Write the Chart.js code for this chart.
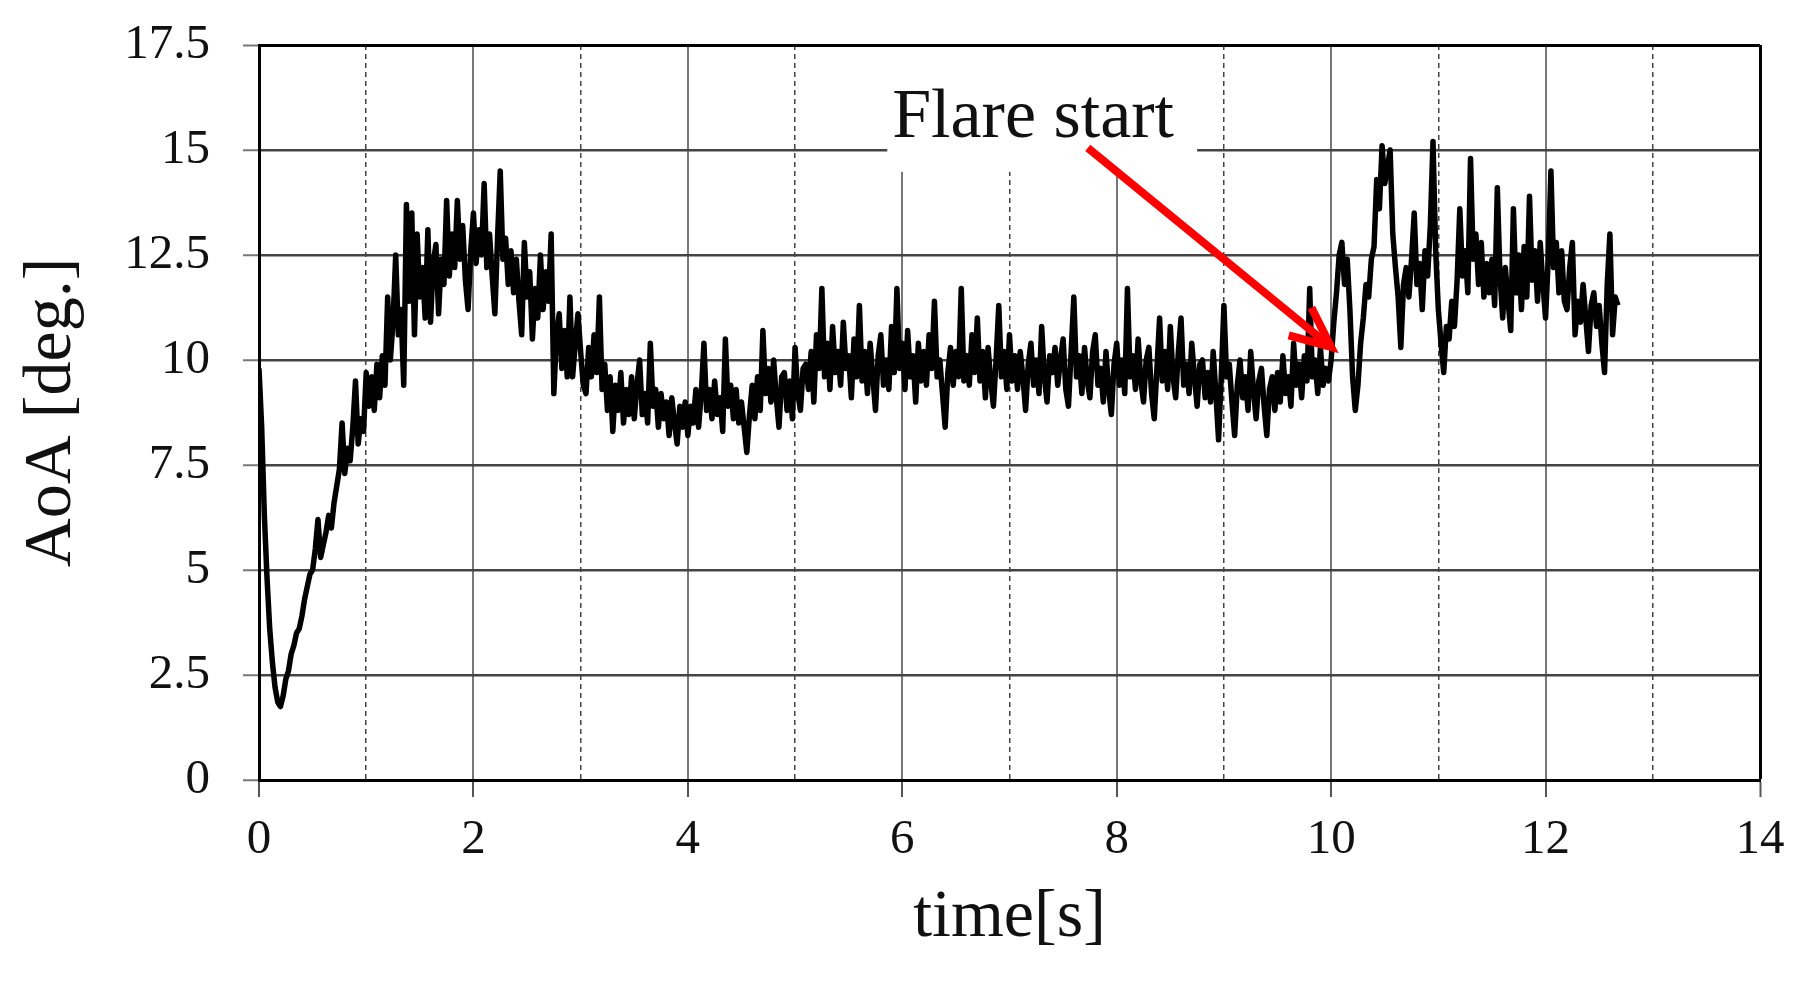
<!DOCTYPE html>
<html>
<head>
<meta charset="utf-8">
<script src="https://cdn.jsdelivr.net/npm/chart.js@4.4.1/dist/chart.umd.min.js"></script>
<style>
  html, body { margin: 0; padding: 0; background: #fff; }
  #chart { display: block; }
</style>
</head>
<body>
<canvas id="chart" width="1800" height="981"></canvas>
<script>
// sample times [s], one row per second
const timeS = [
  0, 0.025, 0.05, 0.075, 0.1, 0.125, 0.15, 0.175, 0.2, 0.225, 0.25, 0.275, 0.3, 0.325, 0.35, 0.375, 0.4, 0.425, 0.45, 0.475,
  0.5, 0.525, 0.55, 0.575, 0.6, 0.625, 0.65, 0.675, 0.7, 0.725, 0.75, 0.775, 0.8, 0.825, 0.85, 0.875, 0.9, 0.925, 0.95, 0.975,
  1, 1.025, 1.05, 1.075, 1.1, 1.125, 1.15, 1.175, 1.2, 1.225, 1.25, 1.275, 1.3, 1.325, 1.35, 1.375, 1.4, 1.425, 1.45, 1.475,
  1.5, 1.525, 1.55, 1.575, 1.6, 1.625, 1.65, 1.675, 1.7, 1.725, 1.75, 1.775, 1.8, 1.825, 1.85, 1.875, 1.9, 1.925, 1.95, 1.975,
  2, 2.025, 2.05, 2.075, 2.1, 2.125, 2.15, 2.175, 2.2, 2.225, 2.25, 2.275, 2.3, 2.325, 2.35, 2.375, 2.4, 2.425, 2.45, 2.475,
  2.5, 2.525, 2.55, 2.575, 2.6, 2.625, 2.65, 2.675, 2.7, 2.725, 2.75, 2.775, 2.8, 2.825, 2.85, 2.875, 2.9, 2.925, 2.95, 2.975,
  3, 3.025, 3.05, 3.075, 3.1, 3.125, 3.15, 3.175, 3.2, 3.225, 3.25, 3.275, 3.3, 3.325, 3.35, 3.375, 3.4, 3.425, 3.45, 3.475,
  3.5, 3.525, 3.55, 3.575, 3.6, 3.625, 3.65, 3.675, 3.7, 3.725, 3.75, 3.775, 3.8, 3.825, 3.85, 3.875, 3.9, 3.925, 3.95, 3.975,
  4, 4.025, 4.05, 4.075, 4.1, 4.125, 4.15, 4.175, 4.2, 4.225, 4.25, 4.275, 4.3, 4.325, 4.35, 4.375, 4.4, 4.425, 4.45, 4.475,
  4.5, 4.525, 4.55, 4.575, 4.6, 4.625, 4.65, 4.675, 4.7, 4.725, 4.75, 4.775, 4.8, 4.825, 4.85, 4.875, 4.9, 4.925, 4.95, 4.975,
  5, 5.025, 5.05, 5.075, 5.1, 5.125, 5.15, 5.175, 5.2, 5.225, 5.25, 5.275, 5.3, 5.325, 5.35, 5.375, 5.4, 5.425, 5.45, 5.475,
  5.5, 5.525, 5.55, 5.575, 5.6, 5.625, 5.65, 5.675, 5.7, 5.725, 5.75, 5.775, 5.8, 5.825, 5.85, 5.875, 5.9, 5.925, 5.95, 5.975,
  6, 6.025, 6.05, 6.075, 6.1, 6.125, 6.15, 6.175, 6.2, 6.225, 6.25, 6.275, 6.3, 6.325, 6.35, 6.375, 6.4, 6.425, 6.45, 6.475,
  6.5, 6.525, 6.55, 6.575, 6.6, 6.625, 6.65, 6.675, 6.7, 6.725, 6.75, 6.775, 6.8, 6.825, 6.85, 6.875, 6.9, 6.925, 6.95, 6.975,
  7, 7.025, 7.05, 7.075, 7.1, 7.125, 7.15, 7.175, 7.2, 7.225, 7.25, 7.275, 7.3, 7.325, 7.35, 7.375, 7.4, 7.425, 7.45, 7.475,
  7.5, 7.525, 7.55, 7.575, 7.6, 7.625, 7.65, 7.675, 7.7, 7.725, 7.75, 7.775, 7.8, 7.825, 7.85, 7.875, 7.9, 7.925, 7.95, 7.975,
  8, 8.025, 8.05, 8.075, 8.1, 8.125, 8.15, 8.175, 8.2, 8.225, 8.25, 8.275, 8.3, 8.325, 8.35, 8.375, 8.4, 8.425, 8.45, 8.475,
  8.5, 8.525, 8.55, 8.575, 8.6, 8.625, 8.65, 8.675, 8.7, 8.725, 8.75, 8.775, 8.8, 8.825, 8.85, 8.875, 8.9, 8.925, 8.95, 8.975,
  9, 9.025, 9.05, 9.075, 9.1, 9.125, 9.15, 9.175, 9.2, 9.225, 9.25, 9.275, 9.3, 9.325, 9.35, 9.375, 9.4, 9.425, 9.45, 9.475,
  9.5, 9.525, 9.55, 9.575, 9.6, 9.625, 9.65, 9.675, 9.7, 9.725, 9.75, 9.775, 9.8, 9.825, 9.85, 9.875, 9.9, 9.925, 9.95, 9.975,
  10, 10.025, 10.05, 10.075, 10.1, 10.125, 10.15, 10.175, 10.2, 10.225, 10.25, 10.275, 10.3, 10.325, 10.35, 10.375, 10.4, 10.425, 10.45, 10.475,
  10.5, 10.525, 10.55, 10.575, 10.6, 10.625, 10.65, 10.675, 10.7, 10.725, 10.75, 10.775, 10.8, 10.825, 10.85, 10.875, 10.9, 10.925, 10.95, 10.975,
  11, 11.025, 11.05, 11.075, 11.1, 11.125, 11.15, 11.175, 11.2, 11.225, 11.25, 11.275, 11.3, 11.325, 11.35, 11.375, 11.4, 11.425, 11.45, 11.475,
  11.5, 11.525, 11.55, 11.575, 11.6, 11.625, 11.65, 11.675, 11.7, 11.725, 11.75, 11.775, 11.8, 11.825, 11.85, 11.875, 11.9, 11.925, 11.95, 11.975,
  12, 12.025, 12.05, 12.075, 12.1, 12.125, 12.15, 12.175, 12.2, 12.225, 12.25, 12.275, 12.3, 12.325, 12.35, 12.375, 12.4, 12.425, 12.45, 12.475,
  12.5, 12.525, 12.55, 12.575, 12.6, 12.625, 12.65, 12.675
];

// angle of attack [deg]
const aoaDeg = [
  9.8, 8.4, 6.3, 4.8, 3.6, 2.8, 2.2, 1.85, 1.75, 2.0, 2.4, 2.6, 3.0, 3.2, 3.5, 3.6, 3.9, 4.3, 4.6, 4.9,
  5.0, 5.5, 6.2, 5.3, 5.6, 5.9, 6.3, 6.0, 6.6, 7.0, 7.4, 8.5, 7.3, 7.9, 7.6, 8.4, 9.5, 8.0, 8.6, 8.3,
  9.7, 8.9, 9.6, 8.8, 9.9, 9.1, 10.1, 9.4, 11.5, 10.0, 10.9, 12.5, 10.6, 11.2, 9.4, 13.7, 11.4, 13.5, 10.6, 13.0,
  11.5, 12.2, 11.0, 13.1, 10.9, 12.3, 12.75, 11.1, 12.4, 11.8, 13.8, 12.0, 13.0, 12.2, 13.8, 12.4, 13.2, 11.9, 11.2, 12.6,
  13.5, 12.3, 13.1, 12.5, 14.2, 12.2, 13.0, 12.0, 11.1, 12.9, 14.5, 12.4, 12.9, 11.8, 12.6, 11.6, 12.4, 11.4, 10.6, 12.8,
  11.5, 12.1, 10.5, 11.7, 11.0, 12.5, 11.2, 12.1, 11.4, 13.0, 9.2, 10.6, 11.1, 9.8, 10.7, 9.6, 11.5, 9.6, 10.4, 11.1,
  10.2, 9.4, 9.2, 10.3, 9.6, 10.6, 9.7, 11.5, 9.3, 9.9, 8.8, 9.6, 8.3, 9.4, 8.8, 9.7, 8.5, 9.3, 8.7, 9.6,
  8.6, 9.4, 10.0, 8.7, 9.2, 8.5, 10.4, 8.9, 9.3, 8.4, 9.2, 8.6, 9.0, 8.2, 9.1, 8.5, 8.0, 8.9, 8.4, 9.0,
  8.2, 8.9, 8.5, 9.3, 8.4, 9.2, 10.4, 8.8, 9.3, 8.6, 9.5, 8.7, 9.1, 8.3, 10.5, 8.9, 9.4, 8.6, 9.3, 8.5,
  9.0, 8.4, 7.8, 8.7, 9.4, 8.6, 9.6, 8.8, 10.7, 9.2, 9.8, 9.0, 10.0, 9.1, 8.4, 9.6, 9.7, 8.8, 9.5, 8.6,
  10.3, 9.2, 8.8, 9.8, 9.9, 9.3, 10.2, 9.0, 10.6, 9.8, 11.7, 9.6, 10.4, 9.3, 10.8, 9.7, 10.2, 9.4, 10.9, 9.8,
  10.1, 9.1, 10.5, 9.6, 11.3, 9.5, 10.2, 9.2, 10.4, 9.6, 8.8, 10.1, 10.6, 9.4, 10.0, 9.3, 10.8, 9.7, 11.7, 9.8,
  10.4, 9.3, 10.7, 9.6, 10.1, 9.0, 10.4, 9.5, 10.2, 9.4, 10.6, 9.8, 11.4, 9.6, 10.0, 9.2, 8.4, 9.7, 10.3, 9.4,
  10.2, 9.6, 11.7, 9.5, 10.1, 9.4, 10.6, 9.7, 11.0, 9.5, 10.2, 9.1, 10.3, 9.5, 8.9, 10.0, 11.3, 9.6, 10.2, 9.3,
  10.6, 9.5, 10.1, 9.3, 10.2, 9.6, 8.8, 9.9, 10.4, 9.4, 10.0, 9.2, 10.8, 9.6, 9.0, 10.1, 9.7, 10.3, 9.4, 10.0,
  10.5, 9.3, 8.9, 10.2, 11.5, 9.6, 10.1, 9.2, 10.3, 9.5, 9.1, 10.2, 10.6, 9.4, 9.8, 9.0, 10.2, 9.3, 8.7, 9.9,
  10.4, 9.4, 10.0, 9.2, 11.7, 9.6, 10.1, 9.3, 10.5, 9.5, 9.0, 10.0, 10.3, 9.2, 8.6, 9.8, 11.0, 9.5, 10.2, 9.3,
  10.8, 9.6, 9.1, 10.2, 11.0, 9.4, 9.9, 9.2, 10.4, 9.6, 8.9, 9.9, 10.0, 9.1, 9.7, 9.0, 10.2, 9.2, 8.1, 9.6,
  11.3, 9.6, 9.9, 9.0, 8.2, 9.4, 10.0, 9.1, 9.6, 8.8, 10.2, 9.3, 8.6, 9.5, 9.8, 8.9, 8.2, 9.3, 9.6, 8.8,
  9.7, 9.0, 10.1, 9.2, 9.6, 8.9, 10.4, 9.4, 9.9, 9.1, 10.1, 9.5, 11.7, 9.6, 10.0, 9.2, 10.3, 9.4, 9.8, 9.5,
  10.0, 10.9, 11.6, 12.5, 12.8, 11.8, 12.4, 11.2, 9.6, 8.8, 9.4, 10.4, 11.0, 11.8, 11.5, 12.4, 12.7, 14.3, 13.6, 15.1,
  14.2, 14.6, 15.0, 13.0, 12.2, 11.5, 10.3, 11.8, 12.2, 11.5, 12.4, 13.5, 11.8, 12.3, 11.2, 12.6, 12.0, 13.2, 15.2, 12.6,
  11.2, 10.4, 9.7, 10.8, 10.5, 11.4, 10.8, 11.9, 13.6, 12.0, 12.6, 11.6, 14.8, 12.4, 13.0, 11.8, 12.8, 11.5, 12.3, 11.6,
  12.4, 11.3, 14.1, 12.0, 11.0, 12.2, 11.4, 10.7, 13.6, 11.6, 12.5, 11.2, 12.7, 11.5, 13.9, 11.9, 12.6, 11.4, 12.8, 11.8,
  11.0, 12.4, 14.5, 12.2, 12.8, 11.6, 12.6, 11.4, 11.2, 12.2, 12.8, 10.6, 11.4, 10.9, 11.8, 11.0, 10.2, 11.3, 11.6, 10.8,
  11.3, 10.4, 9.7, 11.8, 13.0, 10.6, 11.5, 11.3
];

const xTicks = [0, 1, 2, 3, 4, 5, 6, 7, 8, 9, 10, 11, 12, 13, 14];
const yTicks = [0, 2.5, 5, 7.5, 10, 12.5, 15, 17.5];
const yTickLabels = ["0", "2.5", "5", "7.5", "10", "12.5", "15", "17.5"];
const xTitle = "time[s]";
const yTitle = "AoA [deg.]";

// annotation, in data units
const flareLabel = "Flare start";
const flareTextAt = [7.22, 15.3];
const flareBox = [5.86, 8.75, 14.48];
const arrowFrom = [7.73, 15.05];
const arrowTo = [10.0, 10.31];

const serif = "'Liberation Serif', 'Times New Roman', serif";

const flareNote = {
    id: "flareNote",
    beforeDatasetsDraw(chart) {
        const { ctx, chartArea, scales } = chart;
        const x = scales.x, y = scales.y;
        const left = x.getPixelForValue(flareBox[0]);
        const right = x.getPixelForValue(flareBox[1]);
        const bottom = y.getPixelForValue(flareBox[2]);
        ctx.save();
        ctx.fillStyle = "#fff";
        ctx.fillRect(left, chartArea.top + 2, right - left, bottom - chartArea.top - 2);
        ctx.fillStyle = "#111";
        ctx.font = "70px " + serif;
        ctx.textAlign = "center";
        ctx.textBaseline = "alphabetic";
        ctx.fillText(flareLabel, x.getPixelForValue(flareTextAt[0]), y.getPixelForValue(flareTextAt[1]));
        ctx.restore();
    },
    afterDatasetsDraw(chart) {
        const { ctx, scales } = chart;
        const x0 = scales.x.getPixelForValue(arrowFrom[0]);
        const y0 = scales.y.getPixelForValue(arrowFrom[1]);
        const x1 = scales.x.getPixelForValue(arrowTo[0]);
        const y1 = scales.y.getPixelForValue(arrowTo[1]);
        const ang = Math.atan2(y1 - y0, x1 - x0);
        const barb = 44, spread = 0.42;
        ctx.save();
        ctx.strokeStyle = "#ff0000";
        ctx.lineWidth = 8;
        ctx.lineCap = "butt";
        ctx.lineJoin = "miter";
        ctx.beginPath();
        ctx.moveTo(x0, y0);
        ctx.lineTo(x1, y1);
        ctx.stroke();
        ctx.beginPath();
        ctx.moveTo(x1 - barb * Math.cos(ang - spread), y1 - barb * Math.sin(ang - spread));
        ctx.lineTo(x1, y1);
        ctx.lineTo(x1 - barb * Math.cos(ang + spread), y1 - barb * Math.sin(ang + spread));
        ctx.stroke();
        ctx.restore();
    }
};

const isOdd = (c) => c.tick && Math.abs(c.tick.value % 2 - 1) < 1e-6;

new Chart(document.getElementById("chart").getContext("2d"), {
    type: "line",
    data: {
        datasets: [{
            data: timeS.map((t, i) => ({ x: t, y: aoaDeg[i] })),
            borderColor: "#000",
            borderWidth: 5.5,
            borderJoinStyle: "round",
            pointRadius: 0,
            tension: 0,
            fill: false,
        }],
    },
    options: {
        responsive: false,
        animation: false,
        events: [],
        layout: { padding: { left: 0, right: 40, top: 45, bottom: 0 } },
        plugins: { legend: { display: false }, tooltip: { enabled: false } },
        scales: {
            x: {
                type: "linear",
                min: 0,
                max: 14,
                afterBuildTicks: (s) => { s.ticks = xTicks.map((v) => ({ value: v })); },
                afterFit: (s) => { s.height = 201; s.paddingLeft = 0; s.paddingRight = 0; },
                grid: {
                    color: (c) => c.tick && c.tick.value === 14 ? "#000" : isOdd(c) ? "#444" : "#777",
                    lineWidth: (c) => c.tick && c.tick.value === 14 ? 3 : isOdd(c) ? 1.5 : 2,
                    tickColor: (c) => isOdd(c) ? "rgba(0,0,0,0)" : "#555",
                    tickWidth: 2,
                    tickLength: 17,
                },
                border: {
                    color: "#000",
                    width: 3,
                    dash: (c) => isOdd(c) ? [5, 4] : [],
                },
                ticks: {
                    autoSkip: false,
                    maxRotation: 0,
                    padding: 14,
                    color: "#111",
                    font: { family: serif, size: 49 },
                    callback: (v) => (v % 2 === 0 ? String(v) : ""),
                },
                title: {
                    display: true,
                    text: xTitle,
                    color: "#111",
                    font: { family: serif, size: 68 },
                    padding: { top: 0, bottom: 22 },
                },
            },
            y: {
                min: 0,
                max: 17.5,
                afterBuildTicks: (s) => { s.ticks = yTicks.map((v) => ({ value: v })); },
                afterFit: (s) => { s.width = 259; s.paddingTop = 0; s.paddingBottom = 0; },
                grid: {
                    color: (c) => c.tick && c.tick.value === 17.5 ? "#000" : "#444",
                    lineWidth: (c) => c.tick && c.tick.value === 17.5 ? 3 : 2.5,
                    tickColor: "#777",
                    tickWidth: 2,
                    tickLength: 16,
                },
                border: { color: "#000", width: 3 },
                ticks: {
                    padding: 33,
                    color: "#111",
                    font: { family: serif, size: 49 },
                    callback: (v) => yTickLabels[yTicks.indexOf(v)],
                },
                title: {
                    display: true,
                    text: yTitle,
                    color: "#111",
                    font: { family: serif, size: 68 },
                    padding: { top: 11, bottom: 0 },
                },
            },
        },
    },
    plugins: [flareNote],
});
</script>
</body>
</html>
